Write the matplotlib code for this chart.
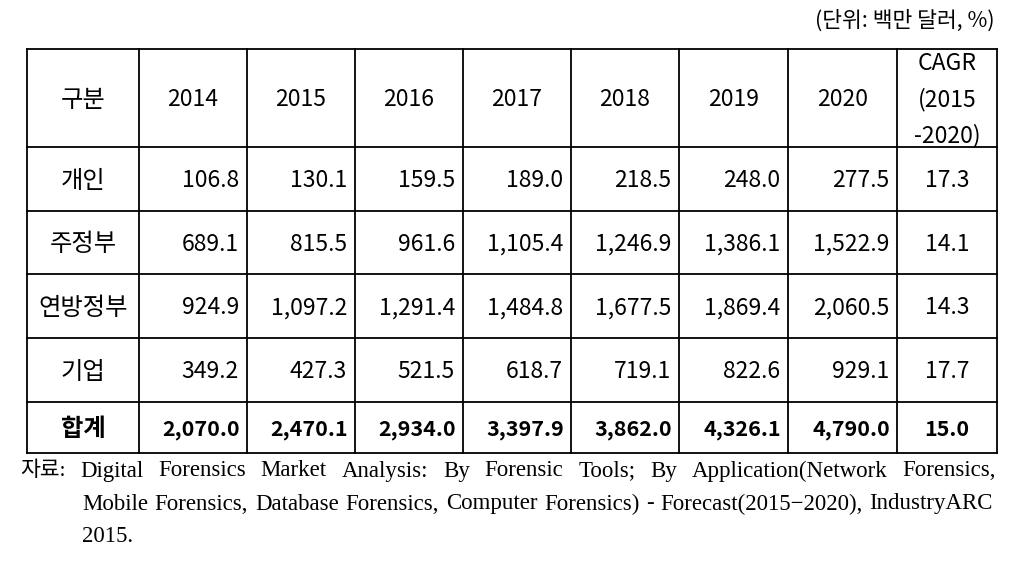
import matplotlib
matplotlib.use("Agg")
import matplotlib.pyplot as plt

plt.rcParams['font.family'] = ['Noto Sans CJK KR', 'DejaVu Sans']

# table data
years = ["2014", "2015", "2016", "2017", "2018", "2019", "2020"]
categories = ["개인", "주정부", "연방정부", "기업"]
personal = [106.8, 130.1, 159.5, 189.0, 218.5, 248.0, 277.5]
state_gov = [689.1, 815.5, 961.6, 1105.4, 1246.9, 1386.1, 1522.9]
federal_gov = [924.9, 1097.2, 1291.4, 1484.8, 1677.5, 1869.4, 2060.5]
enterprise = [349.2, 427.3, 521.5, 618.7, 719.1, 822.6, 929.1]
cagr = [17.3, 14.1, 14.3, 17.7]
total_label = "합계"
totals = [2070.0, 2470.1, 2934.0, 3397.9, 3862.0, 4326.1, 4790.0]
total_cagr = 15.0
unit_label = "(단위: 백만 달러, %)"
header_first = "구분"
cagr_header = ["CAGR", "(2015", "-2020)"]
source_lines = [
    "Digital Forensics Market Analysis: By Forensic Tools; By Application(Network Forensics,",
    "Mobile Forensics, Database Forensics, Computer Forensics) - Forecast(2015\u22122020), IndustryARC",
    "2015.",
]

rows = [personal, state_gov, federal_gov, enterprise]

fig = plt.figure(figsize=(10.2, 5.76), dpi=100)
ax = fig.add_axes([0, 0, 1, 1])
ax.set_xlim(0, 1020)
ax.set_ylim(576, 0)
ax.axis("off")

col_x = [27, 139, 247, 355, 463, 571, 679, 788, 897, 997]
row_y = [49, 147, 210.5, 274, 338, 402, 453]
fs = 16.5
fs_kr = 17.5
dy = 2  # small downward nudge so glyphs sit like the original

# grid lines
for x in col_x:
    ax.plot([x, x], [row_y[0], row_y[-1]], color="black", lw=1.3)
for y in row_y:
    ax.plot([col_x[0], col_x[-1]], [y, y], color="black", lw=1.3)

def mid(a, i):
    return (a[i] + a[i + 1]) / 2

# header
hy = mid(row_y, 0) + dy
ax.text(mid(col_x, 0), hy, header_first, ha="center", va="center", fontsize=fs_kr)
for j, yr in enumerate(years):
    ax.text(mid(col_x, j + 1), hy, yr, ha="center", va="center", fontsize=fs)
for k, s in enumerate(cagr_header):
    ax.text(mid(col_x, 8), hy + (k - 1) * 36, s, ha="center", va="center", fontsize=fs)

# body rows
for i, (cat, vals) in enumerate(zip(categories, rows)):
    y = mid(row_y, i + 1) + dy
    ax.text(mid(col_x, 0), y, cat, ha="center", va="center", fontsize=fs_kr)
    for j, v in enumerate(vals):
        ax.text(col_x[j + 2] - 8, y, f"{v:,.1f}", ha="right", va="center", fontsize=fs)
    ax.text(mid(col_x, 8), y, f"{cagr[i]:.1f}", ha="center", va="center", fontsize=fs)

# total row
y = mid(row_y, 5) + dy
ax.text(mid(col_x, 0), y, total_label, ha="center", va="center", fontsize=fs_kr, fontweight="bold")
for j, v in enumerate(totals):
    ax.text(col_x[j + 2] - 7, y, f"{v:,.1f}", ha="right", va="center", fontsize=15.5, fontweight="bold")
ax.text(mid(col_x, 8), y, f"{total_cagr:.1f}", ha="center", va="center", fontsize=15.5, fontweight="bold")

# unit label
ax.text(995, 21, unit_label, ha="right", va="center", fontsize=15.5,
        family=['Noto Sans CJK KR', 'DejaVu Sans'])

# source note, justified like the original
src_font = ['Liberation Serif', 'Noto Sans CJK KR']
src_fs = 16.5
ax.text(20, 471, "자료:", ha="left", va="center", fontsize=15.5, family=src_font)

renderer = fig.canvas.get_renderer()

def justify(line, x0, x1, y):
    words = line.split(" ")
    arts = [ax.text(0, y, w, ha="left", va="center", fontsize=src_fs, family=src_font) for w in words]
    widths = [a.get_window_extent(renderer).width for a in arts]
    gap = (x1 - x0 - sum(widths)) / max(len(words) - 1, 1)
    x = x0
    for a, w in zip(arts, widths):
        a.set_x(x)
        x += w + gap

justify(source_lines[0], 80, 996, 471)
justify(source_lines[1], 82, 993, 504)
ax.text(82, 536, source_lines[2], ha="left", va="center", fontsize=src_fs, family=src_font)

fig.savefig("out.png", dpi=100)
